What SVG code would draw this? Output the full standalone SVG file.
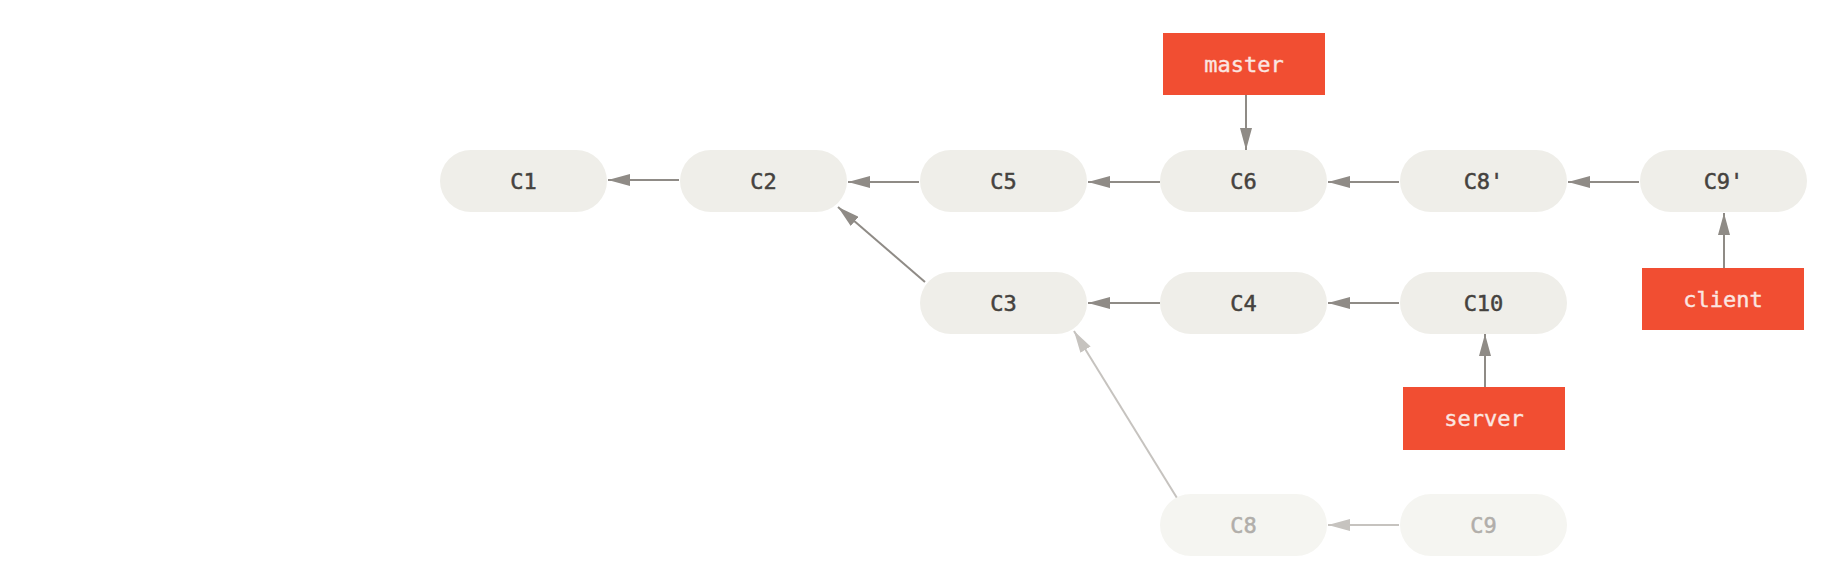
<svg xmlns="http://www.w3.org/2000/svg" width="1824" height="570" viewBox="0 0 1824 570">
<defs>
<style>
.commit rect{fill:#efeee9}
.commit text{font-family:"DejaVu Sans Mono","Liberation Mono",monospace;font-size:22px;fill:#45423e;stroke:#45423e;stroke-width:0.5;text-anchor:middle;dominant-baseline:central}
.faded rect{fill:#f5f5f1}
.faded text{fill:#b1aeaa;stroke:#b1aeaa}
.branch rect{fill:#f14e32}
.branch text{font-family:"DejaVu Sans Mono","Liberation Mono",monospace;font-size:22px;fill:#fbe6e1;stroke:#fbe6e1;stroke-width:0.4;text-anchor:middle;dominant-baseline:central}
.edge{stroke:#8f8b86;stroke-width:2;fill:none;marker-end:url(#ah)}
.edge.light{stroke:#c6c3bf;marker-end:url(#ahl)}
</style>
<marker id="ah" viewBox="0 0 22 12" refX="22" refY="6" markerWidth="22" markerHeight="12" markerUnits="userSpaceOnUse" orient="auto"><path d="M0,0 L22,6 L0,12 Z" fill="#8f8b86"/></marker>
<marker id="ahl" viewBox="0 0 22 12" refX="22" refY="6" markerWidth="22" markerHeight="12" markerUnits="userSpaceOnUse" orient="auto"><path d="M0,0 L22,6 L0,12 Z" fill="#c6c3bf"/></marker>
</defs>
<rect width="1824" height="570" fill="#ffffff"/>
<g id="connectors">
<line class="edge" x1="679" y1="180" x2="608" y2="180"/>
<line class="edge" x1="919" y1="182" x2="848" y2="182"/>
<line class="edge" x1="1160" y1="182" x2="1088" y2="182"/>
<line class="edge" x1="1399" y1="182" x2="1328" y2="182"/>
<line class="edge" x1="1639" y1="182" x2="1568" y2="182"/>
<line class="edge" x1="925" y1="282" x2="838" y2="207"/>
<line class="edge" x1="1160" y1="303" x2="1088" y2="303"/>
<line class="edge" x1="1399" y1="303" x2="1328" y2="303"/>
<line class="edge" x1="1246" y1="95" x2="1246" y2="150"/>
<line class="edge" x1="1724" y1="268" x2="1724" y2="213"/>
<line class="edge" x1="1485" y1="387" x2="1485" y2="334"/>
<line class="edge light" x1="1177" y1="498" x2="1074" y2="331"/>
<line class="edge light" x1="1399" y1="525" x2="1328" y2="525"/>
</g>
<g id="C1" class="commit"><rect x="440" y="150" width="167" height="62" rx="31"/><text x="523.5" y="181">C1</text></g>
<g id="C2" class="commit"><rect x="680" y="150" width="167" height="62" rx="31"/><text x="763.5" y="181">C2</text></g>
<g id="C5" class="commit"><rect x="920" y="150" width="167" height="62" rx="31"/><text x="1003.5" y="181">C5</text></g>
<g id="C6" class="commit"><rect x="1160" y="150" width="167" height="62" rx="31"/><text x="1243.5" y="181">C6</text></g>
<g id="C8p" class="commit"><rect x="1400" y="150" width="167" height="62" rx="31"/><text x="1483.5" y="181">C8'</text></g>
<g id="C9p" class="commit"><rect x="1640" y="150" width="167" height="62" rx="31"/><text x="1723.5" y="181">C9'</text></g>
<g id="C3" class="commit"><rect x="920" y="272" width="167" height="62" rx="31"/><text x="1003.5" y="303">C3</text></g>
<g id="C4" class="commit"><rect x="1160" y="272" width="167" height="62" rx="31"/><text x="1243.5" y="303">C4</text></g>
<g id="C10" class="commit"><rect x="1400" y="272" width="167" height="62" rx="31"/><text x="1483.5" y="303">C10</text></g>
<g id="C8" class="commit faded"><rect x="1160" y="494" width="167" height="62" rx="31"/><text x="1243.5" y="525">C8</text></g>
<g id="C9" class="commit faded"><rect x="1400" y="494" width="167" height="62" rx="31"/><text x="1483.5" y="525">C9</text></g>
<g id="master" class="branch"><rect x="1163" y="33" width="162" height="62"/><text x="1244" y="64">master</text></g>
<g id="client" class="branch"><rect x="1642" y="268" width="162" height="62"/><text x="1723" y="299">client</text></g>
<g id="server" class="branch"><rect x="1403" y="387" width="162" height="63"/><text x="1484" y="418.5">server</text></g>
</svg>
